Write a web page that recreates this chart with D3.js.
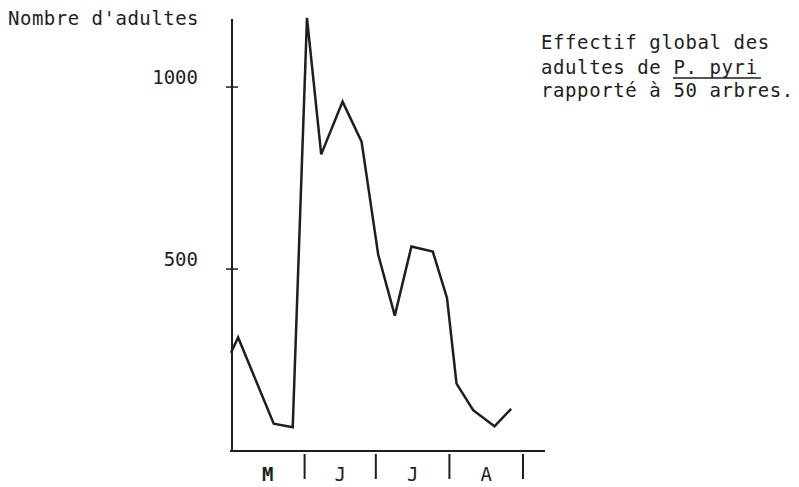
<!DOCTYPE html>
<html><head><meta charset="utf-8">
<script src="https://cdn.jsdelivr.net/npm/d3@7/dist/d3.min.js"></script>
<style>
html,body{margin:0;padding:0;background:#fff;}
text{font-family:"DejaVu Sans Mono",monospace;fill:#1e1e1e;}
</style></head>
<body>
<svg id="chart" width="799" height="487"></svg>
<script>
// sampling dates and adult counts (per 50 trees)
const dates = ["1980-05-01","1980-05-04","1980-05-19","1980-05-27","1980-06-02","1980-06-08","1980-06-17","1980-06-25","1980-07-02","1980-07-09","1980-07-16","1980-07-25","1980-07-31","1980-08-04","1980-08-11","1980-08-20","1980-08-27"];
const adults = [270, 312, 75, 65, 1190, 815, 960, 850, 540, 372, 562, 548, 420, 185, 112, 68, 116];
const yTicks = [500, 1000];
const monthLabels = ["M","J","J","A"];
const monthStarts = ["1980-05-01","1980-06-01","1980-07-01","1980-08-01","1980-09-01"];
const yTitle = "Nombre d'adultes";
const noteLines = ["Effectif global des","adultes de P. pyri","rapporté à 50 arbres."];

const parse = d3.timeParse("%Y-%m-%d");
const svg = d3.select("#chart");
const ink = "#1e1e1e";

const x = d3.scaleTime().domain([parse(monthStarts[0]), parse(monthStarts[4])]).range([231, 523]);
const y = d3.scaleLinear().domain([0, 1187]).range([451, 19]);

// y axis line
svg.append("line").attr("x1",232).attr("x2",232).attr("y1",y(1187)).attr("y2",y(0)+1)
  .attr("stroke",ink).attr("stroke-width",2);
// y ticks
svg.selectAll(".yt").data(yTicks).enter().append("line")
  .attr("x1",226).attr("x2",238).attr("y1",d=>y(d)).attr("y2",d=>y(d))
  .attr("stroke",ink).attr("stroke-width",1.5);
svg.selectAll(".yl").data(yTicks).enter().append("text")
  .attr("x",198).attr("y",d=>y(d)-3).attr("text-anchor","end")
  .attr("font-size",19).text(d=>d);

// x axis baseline
svg.append("line").attr("x1",230).attr("x2",545).attr("y1",y(0)).attr("y2",y(0))
  .attr("stroke",ink).attr("stroke-width",2);
// month boundary ticks
svg.selectAll(".xt").data(monthStarts.slice(1)).enter().append("line")
  .attr("x1",d=>x(parse(d))).attr("x2",d=>x(parse(d)))
  .attr("y1",y(0)+3).attr("y2",y(0)+28)
  .attr("stroke",ink).attr("stroke-width",2);
// month labels
svg.selectAll(".xl").data(monthLabels).enter().append("text")
  .attr("x",(d,i)=>(x(parse(monthStarts[i]))+x(parse(monthStarts[i+1])))/2)
  .attr("y",481).attr("text-anchor","middle").attr("font-size",19)
  .attr("font-weight",(d,i)=>i===0?"bold":"normal")
  .text(d=>d);

// data line
const pts = dates.map((d,i)=>({date:parse(d), v:adults[i]}));
svg.append("path").datum(pts)
  .attr("d", d3.line().x(d=>x(d.date)).y(d=>y(d.v)))
  .attr("fill","none").attr("stroke",ink).attr("stroke-width",2.5)
  .attr("stroke-linejoin","miter");

// titles
svg.append("text").attr("x",8).attr("y",25).attr("font-size",19)
  .attr("letter-spacing",0.5).text(yTitle);
const note = svg.append("text").attr("font-size",19).attr("letter-spacing",0.6);
const baselines = [49, 74, 97];
noteLines.forEach((t,i)=>{
  note.append("tspan").attr("x",541).attr("y",baselines[i]).text(t);
});
// underline of species name
const ul0 = 541 + 11*12, ul1 = 541 + 18*12 + 4;
svg.append("line").attr("x1",ul0).attr("x2",ul1).attr("y1",78).attr("y2",78)
  .attr("stroke",ink).attr("stroke-width",1.5);
</script>
</body></html>
